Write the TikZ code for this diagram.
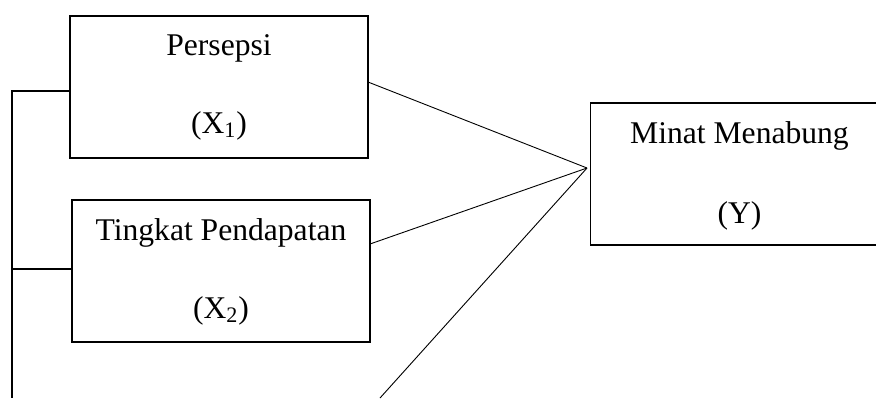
\documentclass[tikz,border=0pt]{standalone}
\usepackage{fontspec}
\setmainfont{Liberation Serif}
\begin{document}
\begin{tikzpicture}[x=0.5pt,y=-0.5pt,
  box/.style={draw, line width=0.65pt, minimum width=149pt, minimum height=71pt, inner sep=0pt},
  lbl/.style={anchor=base, inner sep=0pt, font=\fontsize{15.8pt}{18pt}\selectfont},
  link/.style={line width=0.45pt},
  stub/.style={line width=0.9pt}]
\useasboundingbox (0,0) rectangle (876,398);
\clip (0,0) rectangle (876,398);
\node[box] (b1) at (219,87) {};
\node[box] (b2) at (221,271) {};
\node[box] (b3) at (739.5,174) {};
\node[lbl] (t1) at (219,55) {Persepsi};
\node[lbl] (s1) at (219,133) {(X\textsubscript{1})};
\node[lbl] (t2) at (221,240) {Tingkat Pendapatan};
\node[lbl] (s2) at (221,318) {(X\textsubscript{2})};
\node[lbl] (t3) at (739.5,143) {Minat Menabung};
\node[lbl] (s3) at (739.5,223) {(Y)};
\coordinate (m) at (587,168);
\coordinate (p1) at (368,82);
\coordinate (p2) at (370,244);
\coordinate (p3) at (380,398);
\coordinate (l1) at (70,91);
\coordinate (l2) at (72,269);
\coordinate (v1) at (12,90);
\coordinate (v2) at (12,398);
\coordinate (h1) at (12,91);
\coordinate (h2) at (12,269);
\draw[link] (p1) -- (m);
\draw[link] (p2) -- (m);
\draw[link] (p3) -- (m);
\draw[line width=0.65pt] (v1) -- (v2);
\draw[stub] (h1) -- (l1);
\draw[stub] (h2) -- (l2);
\end{tikzpicture}
\end{document}
